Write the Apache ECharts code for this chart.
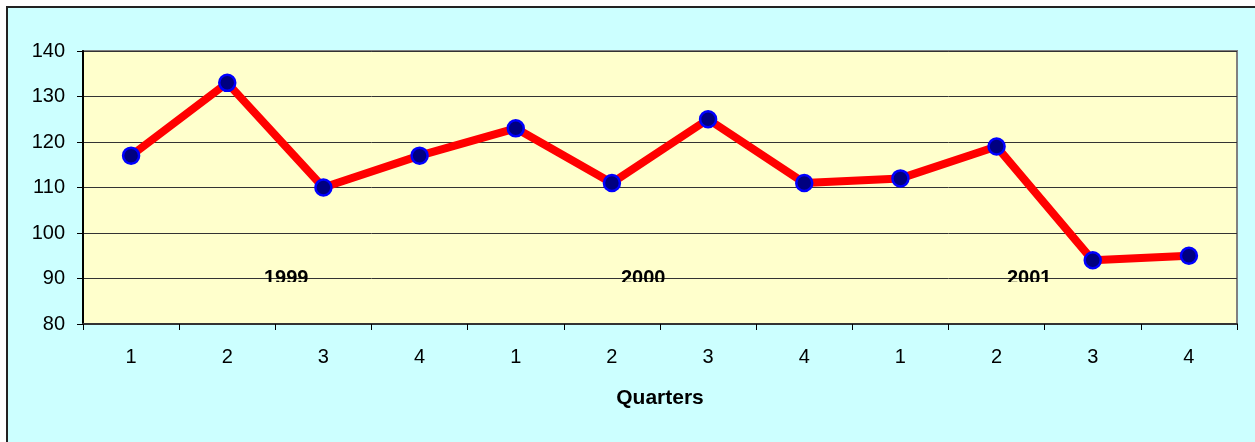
<!DOCTYPE html>
<html>
<head>
<meta charset="utf-8">
<script src="https://cdn.jsdelivr.net/npm/echarts@6/dist/echarts.min.js"></script>
<style>
html,body{margin:0;padding:0;background:#fff;}
#chart{width:1255px;height:442px;}
</style>
</head>
<body>
<div id="chart"></div>
<script>
const categories = ['1999 Q1','1999 Q2','1999 Q3','1999 Q4','2000 Q1','2000 Q2','2000 Q3','2000 Q4','2001 Q1','2001 Q2','2001 Q3','2001 Q4'];
const quarterLabels = ['1','2','3','4','1','2','3','4','1','2','3','4'];
const values = [117, 133, 110, 117, 123, 111, 125, 111, 112, 119, 94, 95];
const yearLabels = ['1999', '2000', '2001'];
const yTicks = [80, 90, 100, 110, 120, 130, 140];

const chart = echarts.init(document.getElementById('chart'), null, {renderer: 'canvas'});
const font = 'Liberation Sans, Arial, sans-serif';
const yearX = [286, 643, 1029];

const option = {
  animation: false,
  textStyle: {fontFamily: font},
  grid: {left: 83, top: 51, right: 18, bottom: 118, show: true,
         backgroundColor: '#FFFFCC', borderColor: '#808080', borderWidth: 2, z: 0},
  graphic: [
    {type: 'rect', z: -10, silent: true,
     shape: {x: 7, y: 7, width: 1300, height: 500},
     style: {fill: '#CCFFFF', stroke: '#222', lineWidth: 2}},
    ...yearLabels.map((t, i) => ({
      type: 'text', z: 1, silent: true, left: yearX[i] - 22, top: 268,
      style: {text: t, fill: '#000', font: 'bold 20px ' + font}
    })),
    {type: 'rect', z: 2, silent: true,
     shape: {x: 84, y: 282, width: 1151, height: 10},
     style: {fill: '#FFFFCC'}}
  ],
  xAxis: {
    type: 'category', data: categories, boundaryGap: true,
    name: 'Quarters', nameLocation: 'middle', nameGap: 64,
    nameTextStyle: {fontSize: 21, fontWeight: 'bold', color: '#000', fontFamily: font},
    axisLine: {lineStyle: {color: '#333', width: 2}},
    axisTick: {show: true, length: 6, lineStyle: {color: '#000'}},
    axisLabel: {fontSize: 20, color: '#000', margin: 23, fontFamily: font,
                formatter: (v, i) => quarterLabels[i]},
    splitLine: {show: false}
  },
  yAxis: {
    type: 'value', min: yTicks[0], max: yTicks[yTicks.length - 1], interval: 10,
    axisLine: {show: true, lineStyle: {color: '#000', width: 2}},
    axisTick: {show: true, length: 6, lineStyle: {color: '#000'}},
    axisLabel: {fontSize: 20, color: '#000', margin: 18, fontFamily: font},
    splitLine: {show: true, lineStyle: {color: '#333', width: 1}}
  },
  series: [{
    type: 'line', data: values, z: 5,
    symbol: 'circle', symbolSize: 16,
    lineStyle: {color: '#FF0000', width: 8},
    itemStyle: {color: '#000080', borderColor: '#0000FF', borderWidth: 2.5}
  }]
};
chart.setOption(option);
</script>
</body>
</html>
